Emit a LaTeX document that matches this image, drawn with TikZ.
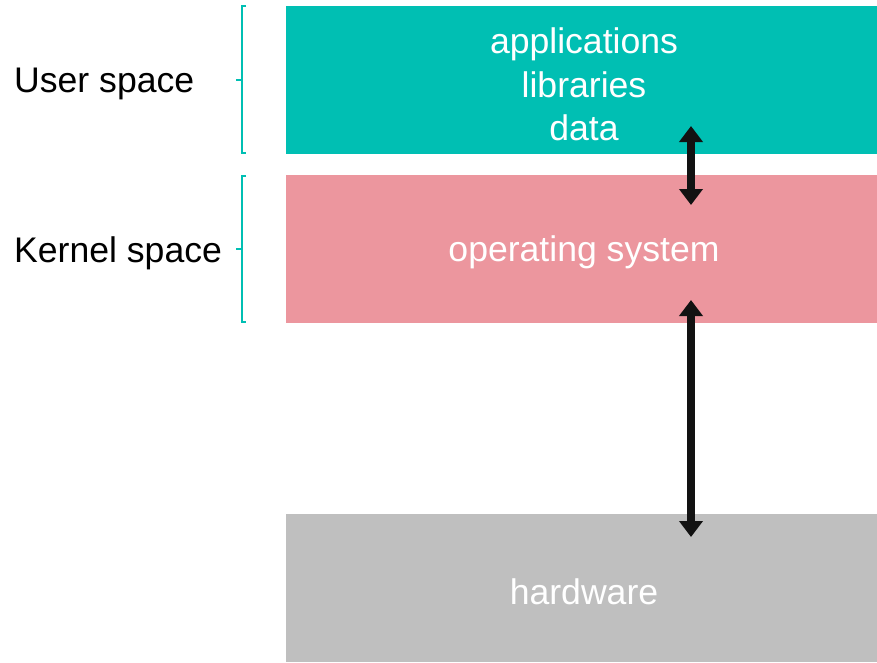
\documentclass[tikz,border=0pt]{standalone}
\usepackage{fontspec}
\setmainfont{Liberation Sans}
\usetikzlibrary{arrows.meta}
\definecolor{tealc}{HTML}{00BFB3}
\definecolor{pinkc}{HTML}{EC969E}
\definecolor{grayc}{HTML}{BFBFBF}
\begin{document}
\begin{tikzpicture}[x=1pt,y=-1pt,
  layer/.style={inner sep=0pt,outer sep=0pt,minimum width=591pt,minimum height=148pt,anchor=north west,text=white,font=\fontsize{35.6}{43.5}\selectfont,align=center},
  side/.style={anchor=west,inner sep=0pt,font=\fontsize{35.6}{43.5}\selectfont},
  brk/.style={draw=tealc,line width=1.3pt},
  dbl/.style={line width=8.5pt,{Triangle[width=23pt,length=16pt]}-{Triangle[width=23pt,length=16pt]},black!93}]
\useasboundingbox (0,0) rectangle (877,662);
\node[layer,fill=tealc] (user) at (286,6) {};
\node[layer,fill=pinkc] (kernel) at (286,175) {};
\node[layer,fill=grayc] (hw) at (286,514) {};
\node[text=white,font=\fontsize{35.6}{43.5}\selectfont,align=center] (usertxt) at (584,84.5) {applications\\libraries\\data};
\node[text=white,font=\fontsize{35.6}{43.5}\selectfont] (kerneltxt) at (584,252) {operating system};
\node[text=white,font=\fontsize{35.6}{43.5}\selectfont] (hwtxt) at (584,592) {hardware};
\node[side] (ulabel) at (14,84) {User space};
\node[side] (klabel) at (14,253) {Kernel space};
\coordinate (a1) at (691,126);
\coordinate (a2) at (691,205);
\coordinate (b1) at (691,300);
\coordinate (b2) at (691,537);
\draw[dbl] (a1) -- (a2);
\draw[dbl] (b1) -- (b2);
\draw[brk] (246,6) -- (242,6) -- (242,153) -- (246,153);
\draw[brk] (242,80) -- (236,80);
\draw[brk] (246,176) -- (242,176) -- (242,322) -- (246,322);
\draw[brk] (242,249) -- (236,249);
\end{tikzpicture}
\end{document}
